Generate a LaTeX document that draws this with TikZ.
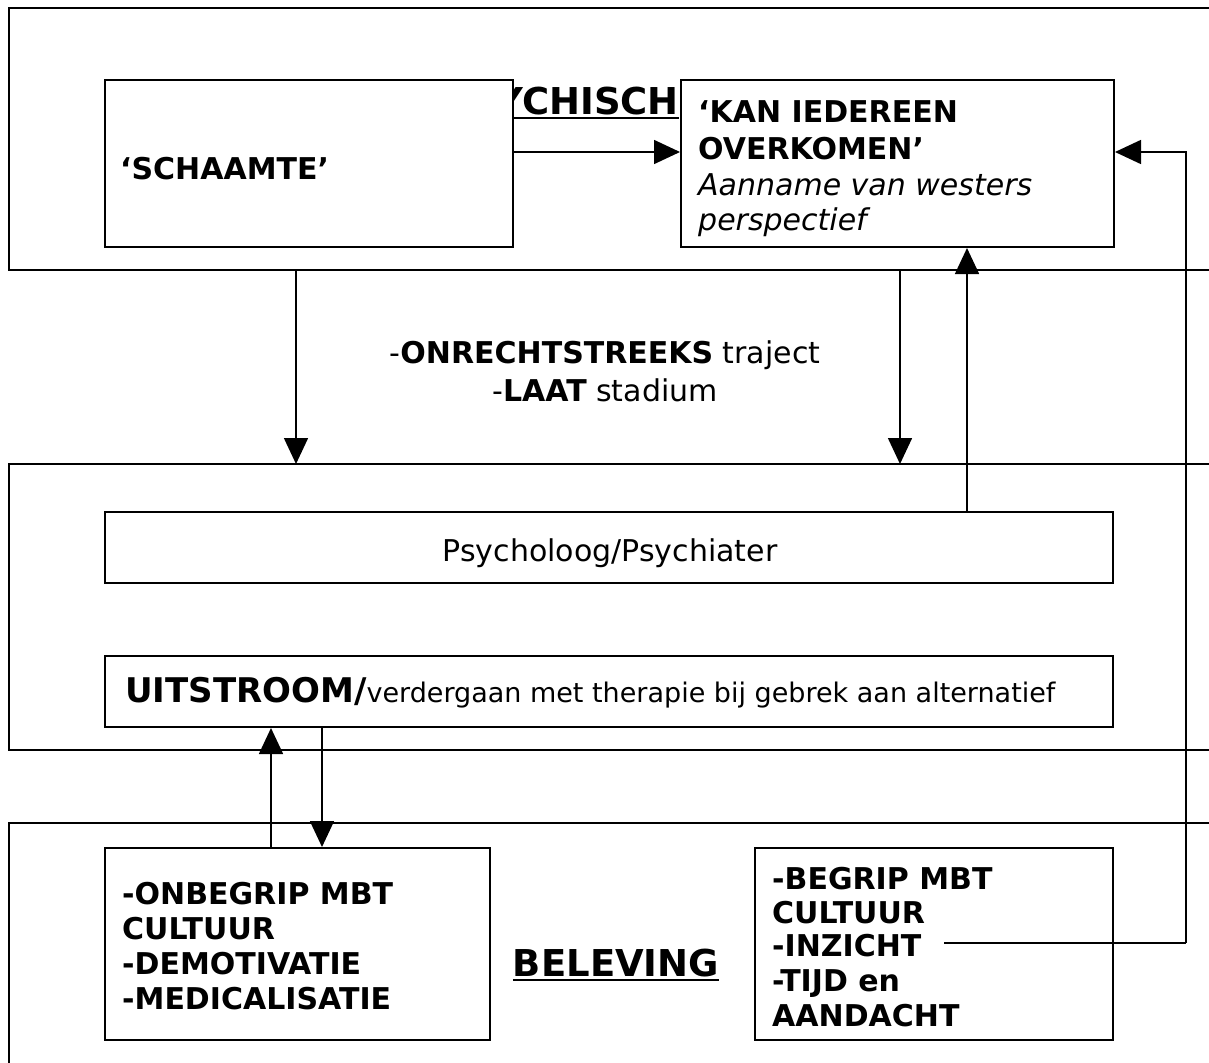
\documentclass[tikz,border=0pt]{standalone}
\usepackage{fontspec}
\setmainfont{DejaVu Sans}
\usetikzlibrary{arrows.meta}
\begin{document}
\begin{tikzpicture}[x=1pt,y=-1pt,
  box/.style={draw=black, line width=2pt, fill=white},
  arr/.style={line width=1.6pt, -{Triangle[length=26pt,width=24pt]}},
  ln/.style={line width=1.6pt},
  txt/.style={inner sep=0pt, anchor=base west, font=\fontsize{30}{35}\selectfont},
  ctxt/.style={inner sep=0pt, anchor=base, font=\fontsize{30}{35}\selectfont},
  big/.style={inner sep=0pt, font=\fontsize{37}{44}\selectfont\bfseries}
]
\useasboundingbox (0,0) rectangle (1209,1062);
\fill[white] (0,0) rectangle (1209,1062);

% outer boxes
\draw[box] (9,8) rectangle (1235,270);
\draw[box] (9,464) rectangle (1235,750);
\draw[box] (9,823) rectangle (1235,1100);
\coordinate (o1s) at (600,270);
\coordinate (o2n) at (600,464);

% hidden title
\node[big, anchor=base east] (psych) at (679,114) {PSYCHISCH};
\draw[line width=2pt] ([yshift=-4pt]psych.base west) -- ([yshift=-4pt]psych.base east);

% inner boxes
\node[box, inner sep=0pt, minimum width=408pt, minimum height=167pt] (scham) at (309,163.5) {};
\node[box, inner sep=0pt, minimum width=433pt, minimum height=167pt] (kan) at (897.5,163.5) {};
\node[box, inner sep=0pt, minimum width=1008pt, minimum height=71pt] (psy) at (609,547.5) {};
\node[box, inner sep=0pt, minimum width=1008pt, minimum height=71pt] (uit) at (609,691.5) {};
\node[box, inner sep=0pt, minimum width=385pt, minimum height=192pt] (onb) at (297.5,944) {};
\node[box, inner sep=0pt, minimum width=358pt, minimum height=192pt] (beg) at (934,944) {};

% texts top
\node[txt] (t1) at (120,179) {\bfseries ‘SCHAAMTE’};
\node[txt] (k1) at (698,123) {\bfseries ‘KAN IEDEREEN};
\node[txt] (k2) at (698,159) {\bfseries OVERKOMEN’};
\node[txt] (k3) at (698,195) {\itshape Aanname van westers};
\node[txt] (k4) at (698,230) {\itshape perspectief};

% middle texts
\node[ctxt] (m1) at (605,363) {-\textbf{ONRECHTSTREEKS} traject};
\node[ctxt] (m2) at (605,401) {-\textbf{LAAT} stadium};
\node[ctxt] (p1) at (610,561) {Psycholoog/Psychiater};
\node[txt] (u1) at (125,702) {{\fontsize{34}{40}\selectfont\bfseries UITSTROOM/}{\fontsize{27}{32}\selectfont verdergaan met therapie bij gebrek aan alternatief}};

% bottom texts
\node[txt] (b1) at (122,904) {\bfseries -ONBEGRIP MBT};
\node[txt] (b2) at (122,939) {\bfseries CULTUUR};
\node[txt] (b3) at (122,974) {\bfseries -DEMOTIVATIE};
\node[txt] (b4) at (122,1009) {\bfseries -MEDICALISATIE};

\node[big, anchor=base] (bel) at (616,976) {BELEVING};
\draw[line width=2pt] ([yshift=-4pt]bel.base west) -- ([yshift=-4pt]bel.base east);

\node[txt] (g1) at (772,889) {\bfseries -BEGRIP MBT};
\node[txt] (g2) at (772,923) {\bfseries CULTUUR};
\node[txt] (g3) at (772,956) {\bfseries -INZICHT};
\node[txt] (g4) at (772,991) {\bfseries -TIJD en};
\node[txt] (g5) at (772,1026) {\bfseries AANDACHT};

% connectors
\coordinate (ya) at (0,152);
\draw[arr] (scham.east |- ya) -- (kan.west |- ya);

\coordinate (inz) at (944,943);
\coordinate (rc) at (1186,943);
\draw[ln] (inz) -- (rc);
\draw[arr] (rc) -- (rc |- ya) -- (kan.east |- ya);

\coordinate (xa) at (296,0);
\coordinate (xb) at (900,0);
\coordinate (xc) at (967,0);
\coordinate (xd) at (271,0);
\coordinate (xe) at (322,0);
\draw[arr] (o1s -| xa) -- (o2n -| xa);
\draw[arr] (o1s -| xb) -- (o2n -| xb);
\draw[arr] (psy.north -| xc) -- (kan.south -| xc);
\draw[arr] (onb.north -| xd) -- (uit.south -| xd);
\draw[arr] (uit.south -| xe) -- (onb.north -| xe);
\end{tikzpicture}
\end{document}
